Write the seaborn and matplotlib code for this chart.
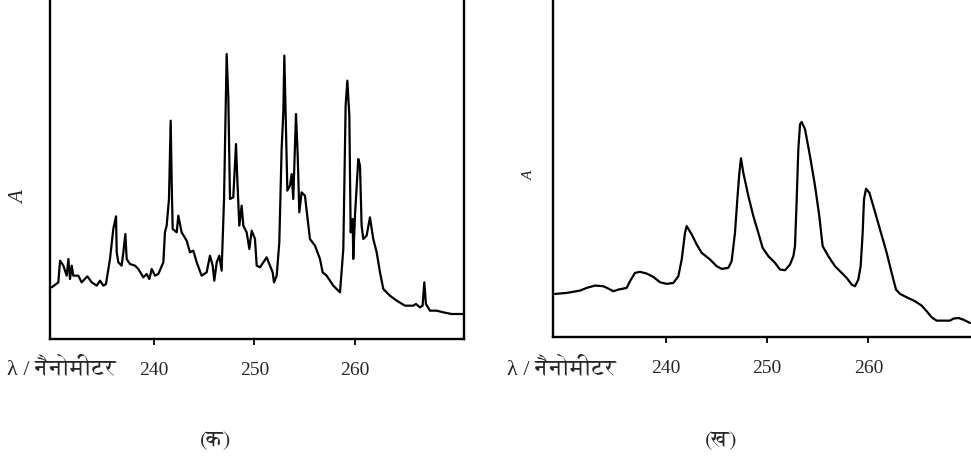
import matplotlib
matplotlib.use("Agg")
import matplotlib.pyplot as plt
import seaborn as sns
from matplotlib import font_manager
from matplotlib.ft2font import FT2Font

# (क) benzene vapour: wavelength (nm) and absorbance (arbitrary units)
vapour_nm = [229.82, 230.48, 230.65, 230.98, 231.31, 231.48, 231.64, 231.81, 231.97, 232.47,
             232.80, 233.37, 233.80, 234.30, 234.63, 234.96, 235.22, 235.62, 235.95, 236.22,
             236.29, 236.45, 236.78, 236.95, 237.15, 237.28, 237.61, 238.11, 238.44, 238.94,
             239.27, 239.54, 239.77, 240.10, 240.43, 240.93, 241.09, 241.26, 241.49, 241.66,
             241.76, 241.86, 242.26, 242.42, 242.75, 243.25, 243.58, 243.91, 244.25, 244.74,
             245.24, 245.57, 245.84, 246.00, 246.24, 246.50, 246.73, 246.97, 247.23, 247.40,
             247.56, 247.89, 248.16, 248.29, 248.49, 248.72, 248.89, 249.22, 249.49, 249.72,
             250.05, 250.22, 250.55, 250.88, 251.21, 251.54, 251.81, 251.94, 252.21, 252.47,
             252.70, 252.87, 252.97, 253.13, 253.27, 253.53, 253.70, 253.86, 254.03, 254.13,
             254.30, 254.46, 254.69, 255.02, 255.36, 255.52, 256.02, 256.52, 256.78, 257.18,
             257.84, 258.51, 258.84, 259.07, 259.24, 259.44, 259.57, 259.77, 259.83, 260.00,
             260.17, 260.33, 260.50, 260.66, 260.83, 261.16, 261.49, 261.82, 262.16, 262.49,
             262.82, 263.48, 264.15, 264.98, 265.80, 266.07, 266.47, 266.73, 266.90, 267.06,
             267.46, 268.13, 268.79, 269.62, 270.71]
vapour_abs = [0.155, 0.170, 0.235, 0.220, 0.190, 0.240, 0.180, 0.220, 0.190, 0.190,
              0.170, 0.188, 0.170, 0.160, 0.175, 0.160, 0.165, 0.240, 0.330, 0.368,
              0.260, 0.230, 0.220, 0.260, 0.315, 0.240, 0.225, 0.220, 0.210, 0.185,
              0.195, 0.180, 0.210, 0.190, 0.195, 0.230, 0.320, 0.340, 0.420, 0.655,
              0.470, 0.330, 0.320, 0.370, 0.320, 0.295, 0.260, 0.265, 0.230, 0.190,
              0.200, 0.250, 0.220, 0.175, 0.230, 0.250, 0.205, 0.420, 0.855, 0.720,
              0.420, 0.425, 0.585, 0.480, 0.340, 0.400, 0.340, 0.320, 0.270, 0.325,
              0.300, 0.220, 0.215, 0.230, 0.245, 0.220, 0.200, 0.170, 0.190, 0.290,
              0.570, 0.680, 0.850, 0.640, 0.445, 0.460, 0.495, 0.420, 0.580, 0.675,
              0.550, 0.380, 0.440, 0.430, 0.340, 0.300, 0.280, 0.240, 0.200, 0.190,
              0.160, 0.140, 0.270, 0.700, 0.775, 0.670, 0.320, 0.360, 0.240, 0.370,
              0.460, 0.540, 0.520, 0.340, 0.300, 0.310, 0.365, 0.300, 0.260, 0.200,
              0.150, 0.130, 0.115, 0.100, 0.100, 0.105, 0.095, 0.100, 0.170, 0.105,
              0.085, 0.085, 0.080, 0.075, 0.075]

# (ख) benzene in solution
solution_nm = [229.08, 230.23, 231.55, 232.20, 233.03, 233.85, 234.34, 234.84, 235.33, 236.15,
               236.48, 236.97, 237.47, 238.12, 238.78, 239.44, 240.10, 240.76, 241.25, 241.58,
               241.91, 242.07, 242.57, 243.06, 243.55, 244.38, 245.03, 245.53, 246.18, 246.51,
               246.84, 247.07, 247.27, 247.43, 247.66, 248.16, 248.65, 249.14, 249.57, 250.13,
               250.79, 251.28, 251.78, 252.27, 252.60, 252.76, 252.93, 253.09, 253.26, 253.42,
               253.75, 254.24, 254.74, 255.16, 255.49, 256.05, 256.71, 257.37, 257.86, 258.36,
               258.68, 259.01, 259.24, 259.44, 259.57, 259.77, 260.10, 260.49, 261.15, 261.81,
               262.30, 262.73, 263.13, 263.78, 264.61, 265.26, 265.76, 266.25, 266.74, 267.40,
               268.06, 268.39, 268.88, 269.38, 270.03]
solution_abs = [0.129, 0.132, 0.139, 0.147, 0.154, 0.152, 0.145, 0.137, 0.142, 0.147,
                0.167, 0.192, 0.195, 0.190, 0.180, 0.164, 0.159, 0.162, 0.182, 0.232,
                0.312, 0.332, 0.307, 0.277, 0.252, 0.232, 0.212, 0.204, 0.207, 0.227,
                0.312, 0.412, 0.492, 0.535, 0.492, 0.422, 0.362, 0.312, 0.267, 0.242,
                0.222, 0.202, 0.200, 0.217, 0.242, 0.272, 0.412, 0.562, 0.637, 0.644,
                0.622, 0.542, 0.452, 0.362, 0.272, 0.242, 0.212, 0.192, 0.177, 0.157,
                0.152, 0.172, 0.212, 0.312, 0.412, 0.444, 0.432, 0.392, 0.322, 0.252,
                0.192, 0.142, 0.129, 0.119, 0.107, 0.094, 0.077, 0.059, 0.049, 0.049,
                0.049, 0.055, 0.057, 0.052, 0.042]

tick_values = [240, 250, 260]
tick_labels = ["240", "250", "260"]
x_title = "λ / नैनोमीटर"
y_title = "A"
captions = ["(क)", "(ख)"]


def font_with(codepoint, prefer=("Serif", "Devanagari")):
    """Return the name of an installed font family that covers a code point."""
    found = []
    for entry in font_manager.fontManager.ttflist:
        try:
            cmap = FT2Font(entry.fname).get_charmap()
        except Exception:
            continue
        if codepoint in cmap:
            found.append(entry.name)
    if not found:
        return "DejaVu Sans"
    for key in prefer:
        for name in found:
            if key in name:
                return name
    return found[0]


sns.set_style("white")
deva = font_with(0x0928)
serif = ["Liberation Serif", deva, "DejaVu Sans"]
plt.rcParams["font.family"] = serif

W, H = 971, 464
fig = plt.figure(figsize=(W / 100, H / 100), dpi=100)

panels = [
    dict(rect=[50 / W, 124 / H, 414 / W, 340 / H], x=vapour_nm, y=vapour_abs,
         xlim=(229.65, 270.85), ylim=(0, 1.02), right=True,
         ylab_xy=(-0.0495, 0.42), ylab_size=15, xlab_x=7, cap_x=216),
    dict(rect=[553.3 / W, 126 / H, 417.7 / W, 338 / H], x=solution_nm, y=solution_abs,
         xlim=(228.91, 270.13), ylim=(0, 1.012), right=False,
         ylab_xy=(-0.0414, 0.481), ylab_size=11, xlab_x=507, cap_x=721),
]

for p, cap in zip(panels, captions):
    ax = fig.add_axes(p["rect"])
    sns.lineplot(x=p["x"], y=p["y"], ax=ax, color="black", linewidth=1.6,
                 estimator=None, sort=False)
    ax.set_xlim(*p["xlim"])
    ax.set_ylim(*p["ylim"])
    ax.set_xticks(tick_values)
    ax.set_xticklabels(tick_labels, fontsize=14, family=serif)
    ax.set_yticks([])
    ax.tick_params(axis="x", direction="out", length=4, width=1.3,
                   color="black", pad=12, bottom=True)
    for side in ("left", "bottom", "right"):
        ax.spines[side].set_color("black")
        ax.spines[side].set_linewidth(1.7)
    ax.spines["top"].set_visible(False)
    ax.spines["right"].set_visible(p["right"])
    ax.set_ylabel(y_title, fontsize=p["ylab_size"], style="italic", family=serif)
    ax.yaxis.set_label_coords(*p["ylab_xy"])
    fig.text(p["xlab_x"] / W, (H - 375) / H, x_title, fontsize=16,
             family=serif, ha="left", va="baseline")
    fig.text(p["cap_x"] / W, (H - 441) / H, cap, fontsize=16,
             family=[deva, "DejaVu Sans"], ha="center", va="center")

fig.savefig("out.png", dpi=100)
